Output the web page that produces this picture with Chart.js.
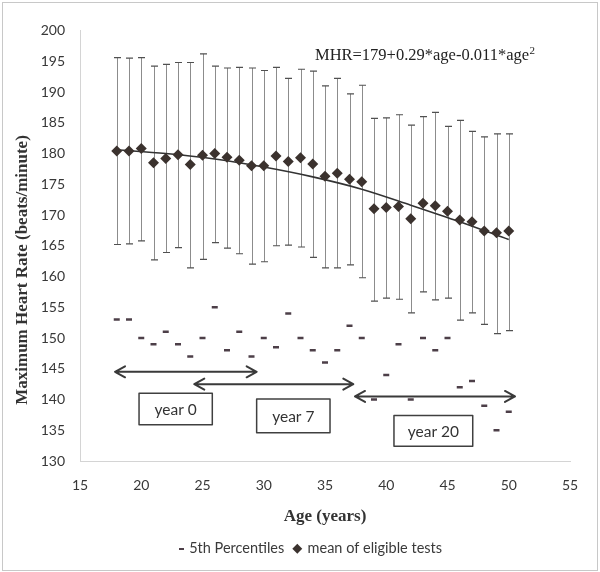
<!DOCTYPE html>
<html><head><meta charset="utf-8">
<script src="https://cdn.jsdelivr.net/npm/chart.js@4.4.0/dist/chart.umd.min.js"></script>
<style>html,body{margin:0;padding:0;background:#fff}#wrap{width:600px;height:572px;position:relative}</style>
</head><body><div id="wrap"><canvas id="c" width="600" height="572"></canvas></div>
<script>
// ---- data ----
const ages    = [18,19,20,21,22,23,24,25,26,27,28,29,30,31,32,33,34,35,36,37,38,39,40,41,42,43,44,45,46,47,48,49,50];
const meanHR  = [180.4,180.4,180.8,178.5,179.2,179.8,178.2,179.7,180.0,179.4,178.9,178.0,178.0,179.6,178.7,179.3,178.3,176.3,176.8,175.8,175.4,171.0,171.2,171.4,169.4,171.9,171.5,170.6,169.2,168.9,167.4,167.1,167.4];
const upperHR = [195.6,195.5,195.6,194.2,194.5,194.8,194.8,196.2,194.2,193.9,194.0,193.9,193.5,194.0,192.2,193.7,193.4,191.0,192.2,189.7,191.1,185.7,185.8,186.3,184.6,186.0,186.7,184.4,185.4,183.6,182.7,183.2,183.2];
const lowerHR = [165.2,165.3,165.8,162.7,163.9,164.7,161.4,162.8,165.5,164.6,163.7,162.0,162.4,165.0,165.1,164.8,163.1,161.4,161.4,161.9,159.8,156.0,156.5,156.3,154.1,157.5,156.2,156.5,152.9,154.1,152.2,150.7,151.2];
const p5HR    = [153,153,150,149,151,149,147,150,155,148,151,147,150,148.5,154,150,148,146,148,152,150,140,144,149,140,150,148,150,142,143,139,135,138];
const trendAges = [18,22,26,30,34,38,42,46,50];
const trendHR   = [180.6,180.0,179.1,177.8,176.2,174.2,171.6,168.9,166.0];
const xTicks = [15,20,25,30,35,40,45,50,55];
const yTicks = [130,135,140,145,150,155,160,165,170,175,180,185,190,195,200];
const seriesNames = ['5th Percentiles','mean of eligible tests','trend'];
const xTitle = 'Age (years)';
const yTitle = 'Maximum Heart Rate (beats/minute)';
const equationText = 'MHR=179+0.29*age-0.011*age';
const equationSup = '2';
const periodLabels = ['year 0','year 7','year 20'];

// ---- annotation geometry (data units) ----
const arrows = [
  {x1:17.86, x2:29.42, y:144.5},
  {x1:24.33, x2:37.31, y:142.5},
  {x1:37.45, x2:50.51, y:140.5}
];
const boxes = [
  {x1:19.82, x2:25.80, y1:141.0, y2:135.9},
  {x1:29.42, x2:35.41, y1:140.1, y2:134.6},
  {x1:40.63, x2:47.06, y1:137.4, y2:132.4}
];
const eqPos = {x:34.18, y:196.0};

const dashImg = document.createElement('canvas');
dashImg.width = 12; dashImg.height = 2;
(function(){const g=dashImg.getContext('2d'); g.fillStyle='#4d3f48'; g.fillRect(6,0,5,2);})();

const whiskers = {
  id:'whiskers',
  beforeDatasetsDraw(chart){
    const {ctx, scales:{x,y}} = chart;
    ctx.save();
    ages.forEach((a,i)=>{
      const px = Math.round(x.getPixelForValue(a))+0.5;
      const yu = y.getPixelForValue(upperHR[i]);
      const yl = y.getPixelForValue(lowerHR[i]);
      ctx.strokeStyle = '#8c8c8c'; ctx.lineWidth = 1;
      ctx.beginPath(); ctx.moveTo(px, yu); ctx.lineTo(px, yl); ctx.stroke();
      ctx.strokeStyle = '#505050'; ctx.lineWidth = 1.2;
      ctx.beginPath();
      ctx.moveTo(px-3.5, yu); ctx.lineTo(px+3.5, yu);
      ctx.moveTo(px-3.5, yl); ctx.lineTo(px+3.5, yl);
      ctx.stroke();
    });
    ctx.restore();
  }
};

const decor = {
  id:'decor',
  afterLayout(chart){
    if (chart.legend){ chart.legend.left += 24; chart.legend.right += 24; }
  },
  beforeDraw(chart){
    const ctx = chart.ctx;
    ctx.save();
    ctx.fillStyle = '#fff'; ctx.fillRect(0,0,chart.width,chart.height);
    ctx.strokeStyle = '#c8c8c8'; ctx.lineWidth = 1;
    ctx.strokeRect(2.5,2.5,chart.width-5,chart.height-4);
    ctx.restore();
  },
  afterDatasetsDraw(chart){
    const {ctx, scales:{x,y}} = chart;
    ctx.save();
    // arrows
    ctx.strokeStyle = '#3a3a3a'; ctx.lineWidth = 2; ctx.lineCap='round'; ctx.lineJoin='round';
    arrows.forEach(a=>{
      const x1 = x.getPixelForValue(a.x1), x2 = x.getPixelForValue(a.x2), py = y.getPixelForValue(a.y);
      ctx.beginPath();
      ctx.moveTo(x1,py); ctx.lineTo(x2,py);
      ctx.moveTo(x1+10,py-5.5); ctx.lineTo(x1,py); ctx.lineTo(x1+10,py+5.5);
      ctx.moveTo(x2-10,py-5.5); ctx.lineTo(x2,py); ctx.lineTo(x2-10,py+5.5);
      ctx.stroke();
    });
    // boxes
    ctx.lineWidth = 1.5; ctx.strokeStyle = '#404040';
    ctx.font = '15.5px Lato'; ctx.fillStyle = '#333'; ctx.textAlign='center'; ctx.textBaseline='middle';
    boxes.forEach((b,i)=>{
      const bx1 = x.getPixelForValue(b.x1), bx2 = x.getPixelForValue(b.x2);
      const by1 = y.getPixelForValue(b.y1), by2 = y.getPixelForValue(b.y2);
      ctx.strokeRect(bx1, by1, bx2-bx1, by2-by1);
      ctx.fillText(periodLabels[i], (bx1+bx2)/2, (by1+by2)/2+1);
    });
    // equation
    ctx.textAlign='left'; ctx.textBaseline='alphabetic'; ctx.fillStyle='#222';
    ctx.font = '16.5px "Liberation Serif"';
    const ex = x.getPixelForValue(eqPos.x), ey = y.getPixelForValue(eqPos.y)+5;
    ctx.fillText(equationText, ex, ey);
    const w = ctx.measureText(equationText).width;
    ctx.font = '11px "Liberation Serif"';
    ctx.fillText(equationSup, ex+w+0.5, ey-6);
    // y title
    ctx.font = 'bold 17px "Liberation Serif"'; ctx.fillStyle='#333';
    ctx.textAlign='center'; ctx.textBaseline='middle';
    ctx.translate(23, 270); ctx.rotate(-Math.PI/2);
    ctx.fillText(yTitle, 0, 0);
    ctx.restore();
  }
};

new Chart(document.getElementById('c'), {
  type:'scatter',
  data:{
    datasets:[
      {label:seriesNames[0], data:ages.map((a,i)=>({x:a,y:p5HR[i]})), pointStyle:'line', pointRadius:3, borderWidth:2.5, borderColor:'#4d3f48', backgroundColor:'#4d3f48'},
      {label:seriesNames[1], data:ages.map((a,i)=>({x:a,y:meanHR[i]})), pointStyle:'rectRot', pointRadius:5.5, borderWidth:0, borderColor:'#3b322e', backgroundColor:'#3b322e'},
      {label:seriesNames[2], type:'line', data:trendAges.map((a,i)=>({x:a,y:trendHR[i]})), showLine:true, pointRadius:0, borderColor:'#333', borderWidth:1.6, cubicInterpolationMode:'monotone', fill:false}
    ]
  },
  options:{
    responsive:false, animation:false,
    layout:{padding:{left:0,right:30,top:30.5,bottom:6}},
    plugins:{
      tooltip:{enabled:false},
      legend:{
        position:'bottom',
        labels:{
          usePointStyle:true, boxWidth:6, boxHeight:7, padding:10,
          font:{family:'Lato', size:14.5}, color:'#3a3a3a',
          filter:(it)=>it.datasetIndex<2,
          generateLabels(chart){
            const items = Chart.defaults.plugins.legend.labels.generateLabels(chart);
            items.forEach(it=>{ if(it.datasetIndex===0) it.pointStyle = dashImg; it.fontColor = '#3a3a3a'; });
            return items;
          }
        }
      }
    },
    scales:{
      x:{
        type:'linear', min:xTicks[0], max:xTicks[xTicks.length-1],
        afterBuildTicks(s){ s.ticks = xTicks.map(v=>({value:v})); },
        afterFit(s){ s.height = 70.5; },
        grid:{display:false, drawTicks:false},
        border:{display:true, color:'#d4d4d4', width:1},
        ticks:{padding:16, font:{family:'Lato', size:14}, color:'#383838'},
        title:{display:true, text:xTitle, font:{family:'Liberation Serif', size:17, weight:'bold'}, color:'#333', padding:{top:0,bottom:4.8}}
      },
      y:{
        type:'linear', min:yTicks[0], max:yTicks[yTicks.length-1],
        afterBuildTicks(s){ s.ticks = yTicks.map(v=>({value:v})); },
        afterFit(s){ s.width = 80; },
        grid:{display:false, drawTicks:false},
        border:{display:true, color:'#d4d4d4', width:1},
        ticks:{padding:15, font:{family:'Lato', size:14}, color:'#383838'}
      }
    }
  },
  plugins:[decor, whiskers]
});
</script></body></html>
